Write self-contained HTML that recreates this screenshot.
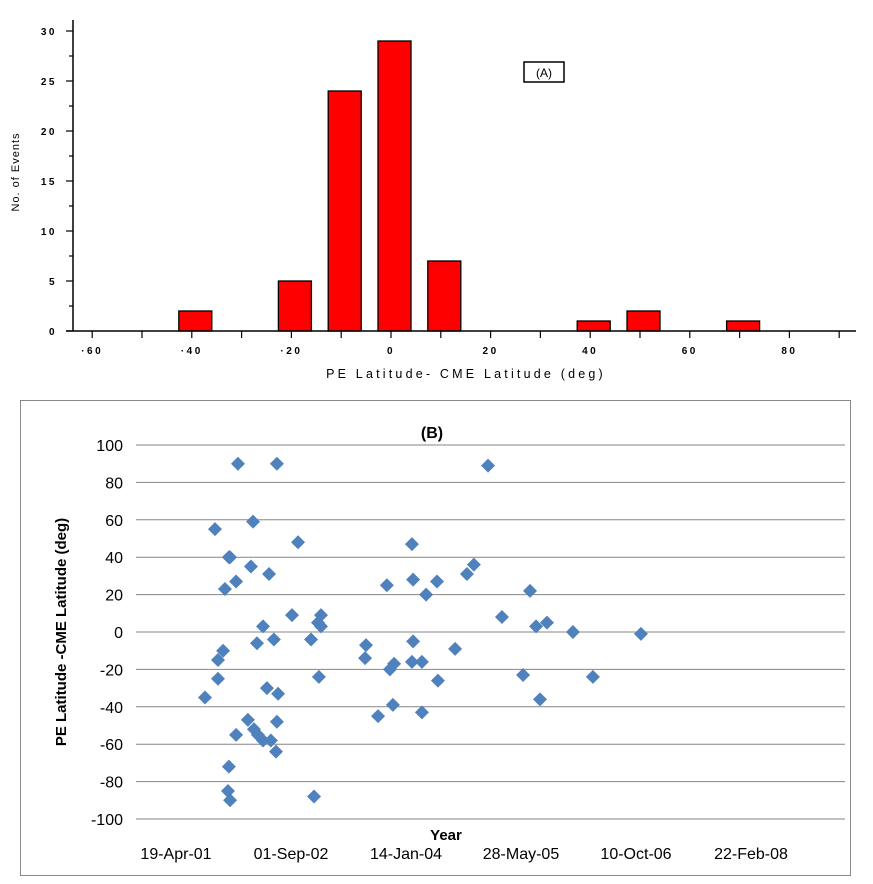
<!DOCTYPE html>
<html><head><meta charset="utf-8"><style>
html,body{margin:0;padding:0;background:#fff;width:873px;height:884px;overflow:hidden}
svg{display:block;font-family:"Liberation Sans",sans-serif}
</style></head><body>
<svg id="svg" width="873" height="884">
<g id="topchart"></g>
<g id="botchart"></g>
</svg>
<script>
// Chart A data
const histCenters=[-40,-20,-10,0,10,40,50,70];
const histCounts=[2,5,24,29,7,1,2,1];
const histXTicks=[-60,-40,-20,0,20,40,60,80];
const histYTicks=[0,5,10,15,20,25,30];
// Chart B data (days since 19-Apr-01, latitude difference)
const scatterDays=[125,168,181,181,203,211,228,233,228,224,233,259,259,267,310,323,332,336,349,353,375,375,392,401,409,422,431,435,435,440,500,526,582,595,612,616,625,625,819,815,871,909,922,935,940,1017,1022,1022,1017,1060,1060,1078,1125,1129,1203,1254,1284,1345,1405,1496,1526,1552,1569,1599,1711,1797,2004];
const scatterValues=[-35,55,-15,-25,-10,23,40,40,-72,-85,-90,27,-55,90,-47,35,59,-52,-6,-55,3,-58,-30,31,-58,-4,-64,90,-48,-33,9,48,-4,-88,5,-24,9,3,-7,-14,-45,25,-20,-39,-17,47,28,-5,-16,-16,-43,20,27,-26,-9,31,36,89,8,-23,22,3,-36,5,0,-24,-1];
const scatterYTicks=[-100,-80,-60,-40,-20,0,20,40,60,80,100];
const dateLabels=["19-Apr-01","01-Sep-02","14-Jan-04","28-May-05","10-Oct-06","22-Feb-08"];
const dateLabelDays=[0,500,1000,1500,2000,2500];

const NS="http://www.w3.org/2000/svg";
function mk(parent,tag,attrs,text){const e=document.createElementNS(NS,tag);for(const k in attrs)e.setAttribute(k,attrs[k]);if(text!==undefined)e.textContent=text;parent.appendChild(e);return e;}

// ---- Chart A
const topG=document.getElementById('topchart');
const ax=v=>391+v*4.98, ay=v=>331-v*10;
let e;
for(let i=0;i<histCenters.length;i++){
  e=mk(topG,'rect',{x:ax(histCenters[i])+3.5-16.5,y:ay(histCounts[i]),width:33,height:histCounts[i]*10,fill:'#ff0000',stroke:'#000','stroke-width':1.3});
  
  
}
e=mk(topG,'line',{x1:73,y1:20,x2:73,y2:331,stroke:'#000','stroke-width':1.5});

e=mk(topG,'line',{x1:66,y1:331,x2:856,y2:331,stroke:'#000','stroke-width':1.5});

for(let v=0;v<=30;v+=2.5){const y=ay(v);mk(topG,'line',{x1:v%5===0?66:69,y1:y,x2:73,y2:y,stroke:'#000','stroke-width':1.2});}
histYTicks.forEach(v=>{e=mk(topG,'text',{x:57,y:ay(v)+4,'font-size':10,'font-weight':600,'text-anchor':'end','letter-spacing':2.5},String(v));
  });
for(let v=-60;v<=90;v+=10){const x=ax(v);mk(topG,'line',{x1:x,y1:331,x2:x,y2:338,stroke:'#000','stroke-width':1.2});}
histXTicks.forEach(v=>{e=mk(topG,'text',{x:ax(v),y:354,'font-size':10,'font-weight':600,'text-anchor':'middle','letter-spacing':2.5},String(v).replace('-','·'));
  });
e=mk(topG,'text',{x:466,y:378,'font-size':12.5,'text-anchor':'middle','letter-spacing':3.2},'PE Latitude- CME Latitude (deg)');

e=mk(topG,'text',{transform:'translate(19,172) rotate(-90)','font-size':11,'text-anchor':'middle','letter-spacing':1},'No. of Events');

e=mk(topG,'rect',{x:524,y:62,width:40,height:20,fill:'#fff',stroke:'#000','stroke-width':1.5});

e=mk(topG,'text',{x:544,y:77,'font-size':12,'text-anchor':'middle'},'(A)');


// ---- Chart B
const botG=document.getElementById('botchart');
e=mk(botG,'rect',{x:20.5,y:400.5,width:830,height:475,fill:'#fff',stroke:'#888','stroke-width':1});

const bx=d=>176+d*0.232, by=v=>632-v*1.87;
scatterYTicks.forEach(v=>{
  e=mk(botG,'line',{x1:136,y1:by(v),x2:845,y2:by(v),stroke:'#868686','stroke-width':1});
  
  e=mk(botG,'text',{x:123,y:by(v)+6,'font-size':16,'text-anchor':'end'},String(v));
  
});
dateLabels.forEach((t,i)=>{
  e=mk(botG,'text',{x:bx(dateLabelDays[i])-i,y:859,'font-size':16,'text-anchor':'middle'},t);
  
});
for(let i=0;i<scatterDays.length;i++){
  const x=bx(scatterDays[i]),y=by(scatterValues[i]);
  e=mk(botG,'path',{d:`M${x} ${y-7}L${x+7} ${y}L${x} ${y+7}L${x-7} ${y}Z`,fill:'#4f81bd'});
  
  
}
e=mk(botG,'text',{x:432,y:438,'font-size':16,'font-weight':'bold','text-anchor':'middle'},'(B)');

e=mk(botG,'text',{x:446,y:840,'font-size':15,'font-weight':'bold','text-anchor':'middle'},'Year');

e=mk(botG,'text',{transform:'translate(66,632) rotate(-90)','font-size':15,'font-weight':'bold','text-anchor':'middle'},'PE Latitude -CME Latitude (deg)');

</script>
</body></html>
